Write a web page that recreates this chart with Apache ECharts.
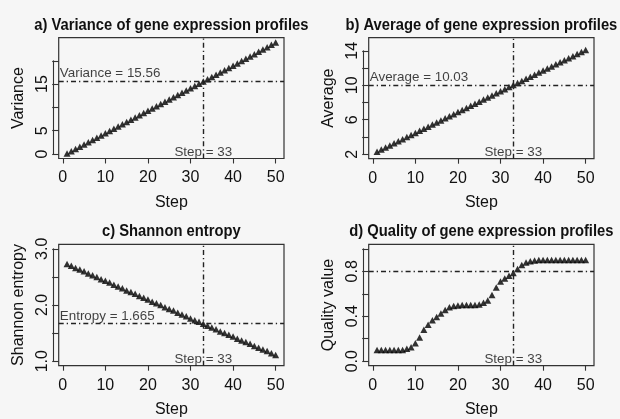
<!DOCTYPE html>
<html>
<head>
<meta charset="utf-8">
<script src="https://cdn.jsdelivr.net/npm/echarts@6/dist/echarts.min.js"></script>
<style>
  html, body { margin: 0; padding: 0; background: #f6f6f6; }
  #chart { width: 620px; height: 419px; }
</style>
</head>
<body>
<div id="chart"></div>
<script>
// Simulation steps and the four profile statistics measured at each step
const steps = [1, 2, 3, 4, 5, 6, 7, 8, 9, 10, 11, 12, 13, 14, 15, 16, 17, 18, 19, 20,
  21, 22, 23, 24, 25, 26, 27, 28, 29, 30, 31, 32, 33, 34, 35, 36, 37, 38, 39, 40,
  41, 42, 43, 44, 45, 46, 47, 48, 49, 50];

const varianceValues = [0.10, 0.58, 1.07, 1.55, 2.03, 2.52, 3.00, 3.48, 3.96, 4.45,
  4.93, 5.41, 5.90, 6.38, 6.86, 7.35, 7.83, 8.31, 8.79, 9.28,
  9.76, 10.24, 10.73, 11.21, 11.69, 12.18, 12.66, 13.14, 13.62, 14.11,
  14.59, 15.07, 15.56, 16.04, 16.52, 17.01, 17.49, 17.98, 18.47, 18.96,
  19.45, 19.94, 20.43, 20.92, 21.42, 21.92, 22.42, 22.92, 23.43, 23.95];

const averageValues = [2.30, 2.54, 2.78, 3.02, 3.27, 3.51, 3.75, 3.99, 4.23, 4.47,
  4.72, 4.96, 5.20, 5.44, 5.68, 5.92, 6.17, 6.41, 6.65, 6.89,
  7.13, 7.37, 7.62, 7.86, 8.10, 8.34, 8.58, 8.82, 9.07, 9.31,
  9.55, 9.79, 10.03, 10.27, 10.51, 10.75, 10.99, 11.23, 11.47, 11.71,
  11.95, 12.19, 12.43, 12.67, 12.91, 13.15, 13.38, 13.62, 13.86, 14.10];

const entropyValues = [2.73, 2.70, 2.66, 2.63, 2.60, 2.56, 2.53, 2.50, 2.46, 2.43,
  2.40, 2.36, 2.33, 2.30, 2.26, 2.23, 2.20, 2.16, 2.13, 2.10,
  2.06, 2.03, 2.00, 1.96, 1.93, 1.90, 1.86, 1.83, 1.80, 1.76,
  1.73, 1.70, 1.665, 1.63, 1.60, 1.57, 1.53, 1.50, 1.47, 1.44,
  1.40, 1.37, 1.34, 1.31, 1.27, 1.24, 1.21, 1.18, 1.14, 1.11];

const qualityValues = [0.10, 0.10, 0.10, 0.10, 0.10, 0.10, 0.10, 0.11, 0.125, 0.16,
  0.21, 0.28, 0.325, 0.365, 0.393, 0.424, 0.455, 0.48, 0.49, 0.495,
  0.50, 0.50, 0.50, 0.50, 0.505, 0.52, 0.54, 0.59, 0.655, 0.71,
  0.735, 0.76, 0.785, 0.82, 0.855, 0.878, 0.89, 0.895, 0.90, 0.90,
  0.90, 0.90, 0.90, 0.90, 0.90, 0.90, 0.90, 0.90, 0.90, 0.90];

const panelTitles = [
  'a) Variance of gene expression profiles',
  'b) Average of gene expression profiles',
  'c) Shannon entropy',
  'd) Quality of gene expression profiles'
];
const yAxisNames = ['Variance', 'Average', 'Shannon entropy', 'Quality value'];
const xAxisName = 'Step';

// Axis limits (before the 4% padding) and tick marks
const xLimits = [1, 50];
const xTickValues = [0, 10, 20, 30, 40, 50];
const yLimits = [[0, 24], [2, 15], [1, 3], [0, 1]];
const yTickValues = [
  [0, 5, 10, 15, 20],
  [2, 4, 6, 8, 10, 12, 14],
  [1.0, 1.5, 2.0, 2.5, 3.0],
  [0.0, 0.2, 0.4, 0.6, 0.8, 1.0]
];
const yTickLabels = [
  ['0', '5', '15'],
  ['2', '6', '10', '14'],
  ['1.0', '2.0', '3.0'],
  ['0.0', '0.4', '0.8']
];
const yTickDigits = [0, 0, 1, 1];

// Selected step and the statistic values at the cut-off
const cutStep = 33;
const cutValues = [15.56, 10.03, 1.665, 0.8];
const cutNames = ['Variance', 'Average', 'Entropy', null];

const seriesValues = [varianceValues, averageValues, entropyValues, qualityValues];

// ---- styling ----
const FONT = '"Liberation Sans", Arial, Helvetica, sans-serif';
const SIZE = { title: 16.6, titleSqueeze: 0.89, tick: 16, name: 16, note: 13.4 };
const INK = '#111';
const FRAME = '#333';
const boxes = [
  { left: 58.7, top: 37.7, width: 225.3, height: 120.8 },
  { left: 368.7, top: 37.7, width: 225.3, height: 121.0 },
  { left: 58.7, top: 244.3, width: 225.3, height: 121.4 },
  { left: 368.7, top: 244.3, width: 225.3, height: 121.4 }
];

function padded(lim) {
  const d = (lim[1] - lim[0]) * 0.04;
  return [lim[0] - d, lim[1] + d];
}

const dotDash = [5, 3, 1.3, 3];

const option = {
  backgroundColor: '#f6f6f6',
  animation: false,
  textStyle: { fontFamily: FONT, color: INK },
  graphic: [], grid: [], xAxis: [], yAxis: [], series: []
};

boxes.forEach((box, i) => {
  const xr = padded(xLimits);
  const yr = padded(yLimits[i]);
  const kx = box.width / (xr[1] - xr[0]);
  const ky = box.height / (yr[1] - yr[0]);
  const yt = yTickValues[i];

  // panel title, slightly condensed bold face centred over the plotting region
  option.graphic.push({
    type: 'text',
    x: box.left + box.width / 2,
    y: box.top - 12.6,
    scaleX: SIZE.titleSqueeze,
    silent: true,
    style: {
      text: panelTitles[i],
      fontFamily: FONT, fontWeight: 'bold', fontSize: SIZE.title,
      fill: INK, align: 'center', verticalAlign: 'middle',
      textAlign: 'center', textVerticalAlign: 'middle'
    }
  });

  const g0 = option.grid.length;
  // plotting region with frame
  option.grid.push({
    left: box.left, top: box.top, width: box.width, height: box.height,
    show: true, borderColor: FRAME, borderWidth: 1.2, backgroundColor: 'transparent'
  });
  // x tick range
  option.grid.push({
    left: box.left + (xTickValues[0] - xr[0]) * kx,
    top: box.top,
    width: (xTickValues[xTickValues.length - 1] - xTickValues[0]) * kx,
    height: box.height
  });
  // y tick range
  option.grid.push({
    left: box.left,
    top: box.top + (yr[1] - yt[yt.length - 1]) * ky,
    width: box.width,
    height: (yt[yt.length - 1] - yt[0]) * ky
  });

  const hidden = { show: false };
  const xBase = option.xAxis.length;
  const yBase = option.yAxis.length;

  // x axes
  option.xAxis.push({
    type: 'value', gridIndex: g0, min: xr[0], max: xr[1],
    name: xAxisName, nameLocation: 'middle', nameGap: 36,
    nameTextStyle: { fontFamily: FONT, fontSize: SIZE.name, color: INK },
    axisLine: hidden, axisTick: hidden, axisLabel: hidden, splitLine: hidden
  });
  option.xAxis.push({
    type: 'value', gridIndex: g0 + 1, position: 'bottom',
    min: xTickValues[0], max: xTickValues[xTickValues.length - 1],
    interval: xTickValues[1] - xTickValues[0],
    offset: 1.5,
    axisLine: { show: true, lineStyle: { color: FRAME, width: 1.1 } },
    axisTick: { show: true, length: 5, lineStyle: { color: FRAME, width: 1.1 } },
    axisLabel: { show: true, margin: 10, fontFamily: FONT, fontSize: SIZE.tick, color: INK },
    splitLine: hidden
  });
  option.xAxis.push({ type: 'value', gridIndex: g0 + 2, show: false });

  // y axes
  option.yAxis.push({
    type: 'value', gridIndex: g0, min: yr[0], max: yr[1],
    name: yAxisNames[i], nameLocation: 'middle', nameGap: 32.5, nameRotate: 90,
    nameTextStyle: { fontFamily: FONT, fontSize: SIZE.name, color: INK },
    axisLine: hidden, axisTick: hidden, axisLabel: hidden, splitLine: hidden
  });
  option.yAxis.push({ type: 'value', gridIndex: g0 + 1, show: false });
  option.yAxis.push({
    type: 'value', gridIndex: g0 + 2, position: 'left',
    min: yt[0], max: yt[yt.length - 1], interval: yt[1] - yt[0],
    axisLine: hidden,
    axisTick: { show: true, length: 6.5, lineStyle: { color: FRAME, width: 1.1 } },
    axisLabel: {
      show: true, rotate: 90, margin: 8.5, fontFamily: FONT, fontSize: SIZE.tick, color: INK,
      formatter: (v) => {
        const s = Number(v).toFixed(yTickDigits[i]);
        return yTickLabels[i].indexOf(s) >= 0 ? s : '';
      }
    },
    splitLine: hidden
  });
  option.yAxis.push({
    type: 'value', gridIndex: g0 + 2, position: 'left',
    min: yt[0], max: yt[yt.length - 1], interval: yt[1] - yt[0],
    offset: 5,
    axisLine: { show: true, lineStyle: { color: FRAME, width: 1.1 } },
    axisTick: hidden, axisLabel: hidden, splitLine: hidden
  });

  const markData = [{ xAxis: cutStep }];
  if (cutValues[i] !== null) markData.push({ yAxis: cutValues[i] });

  // data points
  option.series.push({
    type: 'scatter',
    xAxisIndex: xBase, yAxisIndex: yBase,
    data: steps.map((s, k) => [s, seriesValues[i][k]]),
    symbol: 'triangle', symbolSize: [7, 6.5],
    itemStyle: { color: '#000' },
    silent: true,
    markLine: {
      silent: true, symbol: 'none',
      label: { show: false },
      lineStyle: { color: '#222', width: 1.4, type: dotDash },
      data: markData
    }
  });

  // cut-off annotations
  const notes = [{
    value: [cutStep, yr[0]],
    label: { position: 'top', distance: -0.5, align: 'center', formatter: 'Step = ' + cutStep }
  }];
  if (cutNames[i]) {
    notes.push({
      value: [xTickValues[0], cutValues[i]],
      label: { position: 'top', distance: 1.5, align: 'left', offset: [-3, 0],
               formatter: cutNames[i] + ' = ' + cutValues[i] }
    });
  }
  option.series.push({
    type: 'scatter',
    xAxisIndex: xBase, yAxisIndex: yBase,
    symbolSize: 0, silent: true, clip: false,
    label: { show: true, fontFamily: FONT, fontSize: SIZE.note, color: INK },
    data: notes
  });
});

const chart = echarts.init(document.getElementById('chart'), null, { renderer: 'canvas' });
chart.setOption(option);
</script>
</body>
</html>
